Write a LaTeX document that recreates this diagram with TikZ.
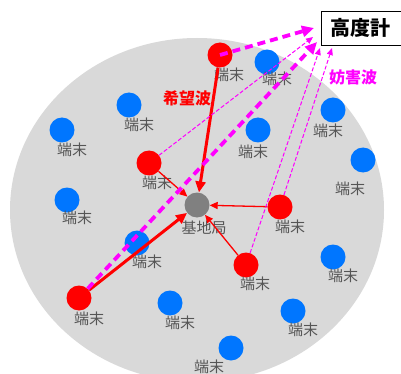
\documentclass[tikz,border=0pt]{standalone}
\usepackage{fontspec}
\setmainfont{Noto Sans CJK JP}
\usetikzlibrary{arrows.meta}
\definecolor{bgc}{RGB}{217,217,217}
\definecolor{tblue}{RGB}{0,118,255}
\definecolor{tgray}{RGB}{128,128,128}
\definecolor{lblc}{RGB}{85,85,85}
\definecolor{mag}{RGB}{255,0,255}
\definecolor{tred}{RGB}{255,0,0}
\tikzset{
  redterm/.style={circle,fill=tred,inner sep=0pt,minimum size=25pt},
  blueterm/.style={circle,fill=tblue,inner sep=0pt,minimum size=25pt},
  basest/.style={circle,fill=tgray,inner sep=0pt,minimum size=25pt},
  lbl/.style={text=lblc,font=\fontsize{15}{15}\selectfont,inner sep=0pt},
  thickred/.style={draw=tred,line width=3pt,-{Triangle[length=11pt,width=10pt]}},
  thinred/.style={draw=tred,line width=1.3pt,-{Triangle[length=8pt,width=7pt]}},
  thickmag/.style={draw=mag,line width=3.8pt,dash pattern=on 8pt off 5pt,-{Triangle[length=12pt,width=11pt]}},
  thinmag/.style={draw=mag,line width=1pt,dash pattern=on 4pt off 2pt,-{Triangle[length=7pt,width=6pt]}},
}
\begin{document}
\begin{tikzpicture}[x=1pt,y=-1pt]
\useasboundingbox (0,0) rectangle (401,374);
\begin{scope}
\clip (0,0) rectangle (401,374);
\fill[bgc] (197,210) ellipse [x radius=187, y radius=172];
\end{scope}
% altimeter
\node[draw=black,line width=1.2pt,fill=white,minimum width=82pt,minimum height=34pt,inner sep=0pt,anchor=north west] (alt) at (321,11) {};
\node[font=\fontsize{20}{20}\selectfont\bfseries,inner sep=0pt] (alttext) at (360,28) {高度計};
\coordinate (a1) at (314,28);
\coordinate (a2) at (313,37);
\coordinate (a3) at (317,42);
\coordinate (a4) at (320,48);
\coordinate (a5) at (332,48);
% base station
\node[basest] (bs) at (197,205) {};
\node[lbl] (bsl) at (204,228) {基地局};
% blue terminals
\node[blueterm] (b1) at (267,62) {};
\node[blueterm] (b2) at (129,105) {};
\node[blueterm] (b3) at (62,130) {};
\node[blueterm] (b4) at (258,130) {};
\node[blueterm] (b5) at (333,110) {};
\node[blueterm] (b6) at (363,160) {};
\node[blueterm] (b7) at (67,200) {};
\node[blueterm] (b8) at (137,243) {};
\node[blueterm] (b9) at (333,257) {};
\node[blueterm] (b10) at (170,303) {};
\node[blueterm] (b11) at (293,311) {};
\node[blueterm] (b12) at (231,348) {};
\node[lbl] (lb1) at (277,79) {端末};
\node[lbl] (lb2) at (139,125) {端末};
\node[lbl] (lb3) at (72,150) {端末};
\node[lbl] (lb4) at (253,152) {端末};
\node[lbl] (lb5) at (328,131) {端末};
\node[lbl] (lb6) at (350,189) {端末};
\node[lbl] (lb7) at (77,218) {端末};
\node[lbl] (lb8) at (147,262) {端末};
\node[lbl] (lb9) at (343,276) {端末};
\node[lbl] (lb10) at (180,323) {端末};
\node[lbl] (lb11) at (303,330) {端末};
\node[lbl] (lb12) at (209,367) {端末};
% red terminals
\node[redterm] (r1) at (220,55) {};
\node[redterm] (r2) at (149,163) {};
\node[redterm] (r3) at (280,207) {};
\node[redterm] (r4) at (246,265) {};
\node[redterm] (r5) at (79,298) {};
\node[lbl] (lr1) at (229,75) {端末};
\node[lbl] (lr2) at (157,183) {端末};
\node[lbl] (lr3) at (290,227) {端末};
\node[lbl] (lr4) at (255,284) {端末};
\node[lbl] (lr5) at (89,319) {端末};
% red arrows (desired)
\draw[thinred] (r2) -- (bs);
\draw[thinred] (r3) -- (bs);
\draw[thinred] (r4) -- (bs);
\draw[thickred] (r1) -- (bs);
\draw[thickred] (r5) -- (bs);
% magenta arrows (interference)
\draw[thinmag] (r2) -- (a2);
\draw[thinmag] (r3) -- (a5);
\draw[thinmag] (r4) -- (a4);
\draw[thickmag] (r1.center) -- (a1);
\draw[thickmag] (r5) -- (a3);
% captions
\node[text=tred,font=\fontsize{16}{16}\selectfont\bfseries,inner sep=0pt] (kibo) at (187,98) {希望波};
\node[text=mag,font=\fontsize{16}{16}\selectfont\bfseries,inner sep=0pt] (bogai) at (353,77) {妨害波};
\end{tikzpicture}
\end{document}
